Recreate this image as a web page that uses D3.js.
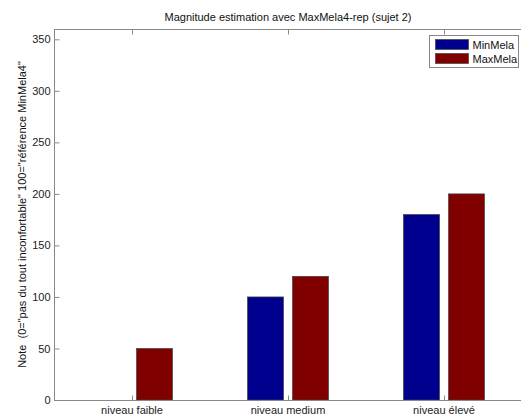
<!DOCTYPE html>
<html>
<head>
<meta charset="utf-8">
<script src="https://cdn.jsdelivr.net/npm/d3@7/dist/d3.min.js"></script>
<style>
  body { margin: 0; background: #fff; }
  svg { display: block; font-family: "Liberation Sans", Arial, Helvetica, sans-serif; }
</style>
</head>
<body>
<div id="chart"></div>
<script>
// Data
const categories = ['niveau faible', 'niveau medium', 'niveau élevé'];
const seriesNames = ['MinMela', 'MaxMela'];
const minMela = [0, 100, 180];
const maxMela = [50, 120, 200];
const yTicks = [0, 50, 100, 150, 200, 250, 300, 350];
const colors = ['#00008f', '#800000'];

const width = 521, height = 419;
const plot = { left: 54, right: 522, top: 29, bottom: 400 };

const svg = d3.select('#chart').append('svg')
    .attr('width', width)
    .attr('height', height);

// scales
const x0 = d3.scaleBand()
    .domain(categories)
    .range([plot.left, plot.right])
    .padding(0);

const x1 = d3.scaleBand()
    .domain(seriesNames)
    .range([-40.5, 40.5])
    .paddingInner(0.2);

const y = d3.scaleLinear()
    .domain([0, 360])
    .range([plot.bottom, plot.top]);

const rows = categories.map((c, i) => ({ cat: c, values: [minMela[i], maxMela[i]] }));

// bars
const groups = svg.append('g').selectAll('g')
    .data(rows)
    .join('g')
    .attr('transform', d => `translate(${x0(d.cat) + x0.bandwidth() / 2},0)`);

groups.selectAll('rect')
    .data(d => d.values.map((v, j) => ({ name: seriesNames[j], value: v, j: j })))
    .join('rect')
    .filter(d => d.value > 0)
    .attr('x', d => x1(d.name))
    .attr('width', x1.bandwidth())
    .attr('y', d => y(d.value))
    .attr('height', d => y(0) - y(d.value))
    .attr('fill', d => colors[d.j])
    .attr('stroke', '#444')
    .attr('stroke-width', 0.7);

// axes box
const axisColor = '#888';
svg.append('rect')
    .attr('x', plot.left + 0.5)
    .attr('y', plot.top + 0.5)
    .attr('width', plot.right - plot.left)
    .attr('height', plot.bottom - plot.top)
    .attr('fill', 'none')
    .attr('stroke', axisColor)
    .attr('stroke-width', 1);

// y ticks (inward, MATLAB style)
const yAxis = svg.append('g')
    .attr('transform', `translate(${plot.left + 0.5},0)`)
    .call(d3.axisLeft(y).tickValues(yTicks).tickSize(-5).tickPadding(4));
yAxis.select('.domain').remove();
yAxis.selectAll('line').attr('stroke', axisColor);
yAxis.selectAll('text').attr('font-size', 11).attr('fill', '#222')
    .attr('font-family', '"Liberation Sans", Arial, sans-serif');

// x ticks bottom (inward)
const xAxis = svg.append('g')
    .attr('transform', `translate(0,${plot.bottom + 0.5})`)
    .call(d3.axisBottom(x0).tickSize(-5).tickPadding(6));
xAxis.select('.domain').remove();
xAxis.selectAll('line').attr('stroke', axisColor).attr('transform', 'translate(0.5,0)');
xAxis.selectAll('text').attr('font-size', 11).attr('fill', '#222')
    .attr('font-family', '"Liberation Sans", Arial, sans-serif');

// x ticks top (inward)
const xTop = svg.append('g')
    .attr('transform', `translate(0,${plot.top + 0.5})`)
    .call(d3.axisTop(x0).tickSize(-5).tickFormat(''));
xTop.select('.domain').remove();
xTop.selectAll('line').attr('stroke', axisColor).attr('transform', 'translate(0.5,0)');

// title
svg.append('text')
    .attr('x', (plot.left + plot.right) / 2)
    .attr('y', 21)
    .attr('text-anchor', 'middle')
    .attr('font-size', 11)
    .attr('fill', '#111')
    .text('Magnitude estimation avec MaxMela4-rep (sujet 2)');

// y label
svg.append('text')
    .attr('transform', `translate(26,${(plot.top + plot.bottom) / 2}) rotate(-90)`)
    .attr('text-anchor', 'middle')
    .attr('font-size', 11)
    .attr('fill', '#111')
    .attr('xml:space', 'preserve')
    .style('white-space', 'pre')
    .text('Note  (0="pas du tout inconfortable" 100="référence MinMela4"');

// legend
const legend = svg.append('g').attr('transform', 'translate(429.5,35.5)');
legend.append('rect')
    .attr('width', 89)
    .attr('height', 32)
    .attr('fill', '#fff')
    .attr('stroke', axisColor);
seriesNames.forEach((name, i) => {
    legend.append('rect')
        .attr('x', 6)
        .attr('y', 4 + i * 14)
        .attr('width', 33)
        .attr('height', 10)
        .attr('fill', colors[i])
        .attr('stroke', '#444')
        .attr('stroke-width', 0.7);
    legend.append('text')
        .attr('x', 43)
        .attr('y', 13 + i * 14)
        .attr('font-size', 11)
        .attr('fill', '#111')
        .text(name);
});
</script>
</body>
</html>
